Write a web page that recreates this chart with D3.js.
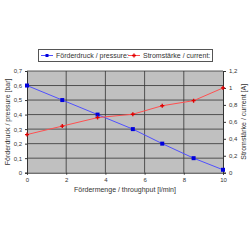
<!DOCTYPE html>
<html>
<head>
<meta charset="utf-8">
<script src="https://cdn.jsdelivr.net/npm/d3@7"></script>
<style>
  body { margin: 0; background: #fff; }
  text { font-family: "Liberation Sans", Arial, sans-serif; fill: #333; }
</style>
</head>
<body>
<div id="chart-area"></div>
<script>
var flow = [0, 1.8, 3.6, 5.4, 6.9, 8.5, 10];
var pressure = [0.6, 0.5, 0.4, 0.3, 0.2, 0.1, 0.02];
var current = [0.45, 0.55, 0.65, 0.69, 0.79, 0.85, 1.0];
var xTicks = [0, 2, 4, 6, 8, 10];
var leftTicks = [0, 0.1, 0.2, 0.3, 0.4, 0.5, 0.6, 0.7];
var rightTicks = [0, 0.2, 0.4, 0.6, 0.8, 1, 1.2];

var fmt = (d) => String(d).replace(".", ",");

var svg = d3.select("#chart-area").append("svg")
    .attr("width", 250)
    .attr("height", 250);

var plotL = 27, plotR = 223, plotT = 71, plotB = 172.7;

var x = d3.scaleLinear().domain([0, 10]).range([plotL, plotR]);
var yL = d3.scaleLinear().domain([0, 0.7]).range([plotB, plotT]);
var yR = d3.scaleLinear().domain([0, 1.2]).range([plotB, plotT]);

// plot background
svg.append("rect")
    .attr("x", plotL).attr("y", plotT)
    .attr("width", plotR - plotL).attr("height", plotB - plotT)
    .attr("fill", "#c0c0c0");

// grid
svg.append("g").selectAll("line").data(leftTicks.slice(1))
    .enter().append("line")
    .attr("x1", plotL).attr("x2", plotR)
    .attr("y1", (d) => yL(d)).attr("y2", (d) => yL(d))
    .attr("stroke", "#333").attr("stroke-width", 0.8);
svg.append("g").selectAll("line").data(xTicks.slice(1, -1))
    .enter().append("line")
    .attr("x1", (d) => x(d)).attr("x2", (d) => x(d))
    .attr("y1", plotT).attr("y2", plotB)
    .attr("stroke", "#333").attr("stroke-width", 0.8);

// axes
var xAxis = svg.append("g")
    .attr("transform", "translate(0," + plotB + ")")
    .call(d3.axisBottom(x).tickValues(xTicks).tickSize(2).tickPadding(3).tickFormat(fmt));
var lAxis = svg.append("g")
    .attr("transform", "translate(" + plotL + ",0)")
    .call(d3.axisLeft(yL).tickValues(leftTicks).tickSize(2).tickPadding(3).tickFormat(fmt));
var rAxis = svg.append("g")
    .attr("transform", "translate(" + plotR + ",0)")
    .call(d3.axisRight(yR).tickValues(rightTicks).tickSize(3).tickPadding(3).tickFormat(fmt));

[xAxis, lAxis, rAxis].forEach((a) => {
    a.select(".domain").attr("stroke", "#333");
    a.selectAll(".tick line").attr("stroke", "#333");
    a.selectAll("text").attr("font-size", 6).attr("fill", "#444")
        .style("font-family", "'Liberation Sans', Arial, sans-serif");
});

var ptsP = flow.map((f, i) => [f, pressure[i]]);
var ptsC = flow.map((f, i) => [f, current[i]]);

svg.append("path")
    .datum(ptsP)
    .attr("fill", "none").attr("stroke", "#5050ff").attr("stroke-width", 1)
    .attr("d", d3.line().x((d) => x(d[0])).y((d) => yL(d[1])));
svg.append("path")
    .datum(ptsC)
    .attr("fill", "none").attr("stroke", "#ff5050").attr("stroke-width", 1)
    .attr("d", d3.line().x((d) => x(d[0])).y((d) => yR(d[1])));

svg.append("g").selectAll("rect").data(ptsP)
    .enter().append("rect")
    .attr("x", (d) => x(d[0]) - 2).attr("y", (d) => yL(d[1]) - 2)
    .attr("width", 4).attr("height", 4)
    .attr("fill", "#0000dd");

var cross = d3.symbol().type(d3.symbolCross).size(9);
svg.append("g").selectAll("path").data(ptsC)
    .enter().append("path")
    .attr("transform", (d) => "translate(" + x(d[0]) + "," + yR(d[1]) + ")")
    .attr("d", cross)
    .attr("fill", "#e00000");

// axis titles
svg.append("text")
    .attr("x", 125).attr("y", 192)
    .attr("text-anchor", "middle").attr("font-size", 7)
    .text("Fördermenge / throughput [l/min]");
svg.append("text")
    .attr("transform", "translate(10," + ((plotT + plotB) / 2) + ") rotate(-90)")
    .attr("text-anchor", "middle").attr("font-size", 7)
    .text("Förderdruck / pressure [bar]");
svg.append("text")
    .attr("transform", "translate(246," + ((plotT + plotB) / 2) + ") rotate(-90)")
    .attr("text-anchor", "middle").attr("font-size", 7)
    .text("Stromstärke / current [A]");

// legend
var lg = svg.append("g");
lg.append("rect")
    .attr("x", 38.5).attr("y", 49.5).attr("width", 174).attr("height", 12)
    .attr("fill", "#fff").attr("stroke", "#555").attr("stroke-width", 1);
lg.append("line").attr("x1", 41).attr("x2", 53).attr("y1", 55.5).attr("y2", 55.5)
    .attr("stroke", "#5050ff");
lg.append("rect").attr("x", 45.5).attr("y", 54).attr("width", 3).attr("height", 3).attr("fill", "#0000dd");
lg.append("text").attr("x", 56).attr("y", 58).attr("font-size", 7)
    .text("Förderdruck / pressure:");
lg.append("line").attr("x1", 128).attr("x2", 140).attr("y1", 55.5).attr("y2", 55.5)
    .attr("stroke", "#ff5050");
lg.append("path").attr("transform", "translate(134,55.5)").attr("d", cross).attr("fill", "#e00000");
lg.append("text").attr("x", 143).attr("y", 58).attr("font-size", 7)
    .text("Stromstärke / current:");
</script>
</body>
</html>
